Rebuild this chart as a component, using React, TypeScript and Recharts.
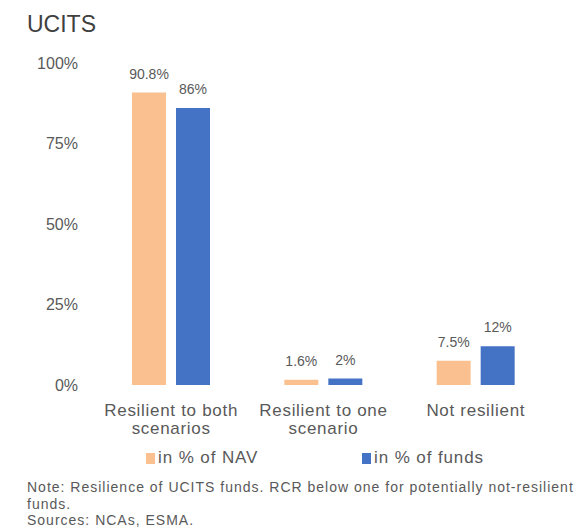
import { Bar, BarChart, LabelList, Text, XAxis, YAxis } from 'recharts';

const CATEGORIES = ['Resilient to both scenarios', 'Resilient to one scenario', 'Not resilient'];
const NAV_SHARE = [90.8, 1.6, 7.5];
const FUND_SHARE = [86, 2, 12];
const Y_TICKS = [0, 25, 50, 75, 100];

const ORANGE = '#FAC090';
const BLUE = '#4472C4';
const GREY = '#595959';
const FONT = 'Arial, "Liberation Sans", sans-serif';

const data = CATEGORIES.map((name, i) => ({
  name,
  nav: NAV_SHARE[i],
  funds: FUND_SHARE[i],
}));

function CategoryTick({ x, y, payload }: { x?: number; y?: number; payload?: { value: string } }) {
  return (
    <Text
      x={x}
      y={(y ?? 0) + 17}
      width={150}
      textAnchor="middle"
      verticalAnchor="start"
      lineHeight={18}
      fontSize={17}
      fill={GREY}
      fontFamily={FONT}
      style={{ letterSpacing: 0.7 }}
    >
      {payload?.value ?? ''}
    </Text>
  );
}

function LegendItem({ color, label, left }: { color: string; label: string; left: number }) {
  return (
    <div style={{ position: 'absolute', left, top: 448, display: 'flex', alignItems: 'center' }}>
      <span style={{ width: 9, height: 11, background: color, display: 'inline-block', marginRight: 3 }} />
      <span style={{ fontSize: 17, color: GREY, letterSpacing: 0.9 }}>{label}</span>
    </div>
  );
}

export default function App() {
  return (
    <div
      style={{
        position: 'absolute',
        left: 0,
        top: 0,
        width: 580,
        height: 531,
        background: '#fff',
        fontFamily: FONT,
      }}
    >
      <div style={{ position: 'absolute', left: 27, top: 11, fontSize: 23, color: '#404040' }}>UCITS</div>
      <BarChart
        width={580}
        height={440}
        data={data}
        margin={{ top: 63, right: 28, left: 0, bottom: 0 }}
        barGap={10}
        barSize={34}
      >
        <YAxis
          domain={[0, 100]}
          ticks={Y_TICKS}
          interval={0}
          width={95}
          axisLine={false}
          tickLine={false}
          tickSize={0}
          tickMargin={17}
          tick={{ fontSize: 16, fill: GREY, fontFamily: FONT }}
          tickFormatter={(v: number) => `${v}%`}
        />
        <XAxis
          dataKey="name"
          height={55}
          axisLine={false}
          tickLine={false}
          tickSize={0}
          interval={0}
          tick={<CategoryTick />}
        />
        <Bar dataKey="nav" fill={ORANGE} isAnimationActive={false}>
          <LabelList
            dataKey="nav"
            position="top"
            offset={14}
            formatter={(v: number) => `${v}%`}
            style={{ fontSize: 14, fill: GREY, fontFamily: FONT }}
          />
        </Bar>
        <Bar dataKey="funds" fill={BLUE} isAnimationActive={false}>
          <LabelList
            dataKey="funds"
            position="top"
            offset={14}
            formatter={(v: number) => `${v}%`}
            style={{ fontSize: 14, fill: GREY, fontFamily: FONT }}
          />
        </Bar>
      </BarChart>
      <LegendItem color={ORANGE} label="in % of NAV" left={146} />
      <LegendItem color={BLUE} label="in % of funds" left={362} />
      <div
        style={{
          position: 'absolute',
          left: 27,
          top: 479,
          width: 553,
          fontSize: 14,
          lineHeight: '16.5px',
          color: GREY,
          letterSpacing: 1,
          whiteSpace: 'nowrap',
        }}
      >
        Note: Resilience of UCITS funds. RCR below one for potentially not-resilient
        <br />
        funds.
        <br />
        Sources: NCAs, ESMA.
      </div>
    </div>
  );
}
